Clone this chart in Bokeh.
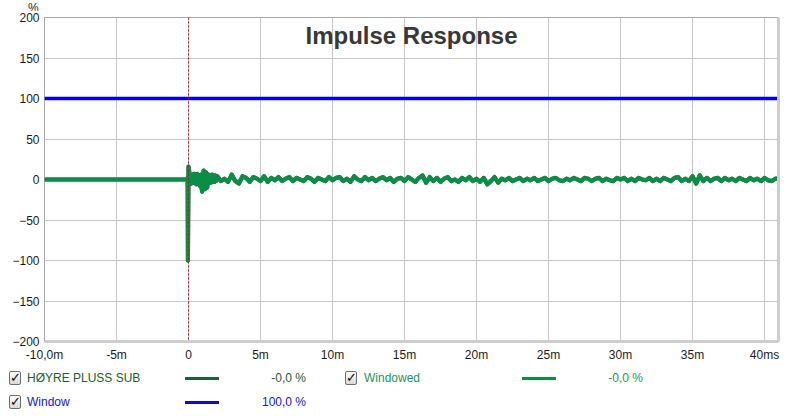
from bokeh.plotting import figure
from bokeh.models import Range1d, FixedTicker, Span, Label, Div, LinearAxis
from bokeh.layouts import column
from bokeh.embed import file_html
from bokeh.resources import INLINE

# ---------------- data ----------------
pre_t = [-10.0, -0.10]
pre_v = [0.0, 0.0]

imp_t = [-0.10, -0.06, -0.04, 0.00, 0.05, 0.10, 0.15, 0.20, 0.25, 0.30,
         0.35, 0.40, 0.45, 0.50, 0.55, 0.60, 0.65, 0.70, 0.75, 0.80,
         0.85, 0.90, 0.95, 1.00, 1.05, 1.10, 1.15, 1.20, 1.25, 1.30,
         1.35, 1.40, 1.45, 1.50, 1.55, 1.60, 1.65, 1.70, 1.75, 1.80,
         1.85, 1.90, 1.95]
imp_v = [0, 2, -100, 16, 10, -6, 3, -5, 4, 6,
         -4, 7, -3, 5, -6, 7, 2, -3, 5, -8,
         6, -10, -15, 4, 11, -7, -12, 9, 8, -10,
         4, 6, -3, 5, -4, 3, 6, -2, 4, -3,
         5, -2, 3]

tail_start = 2.0
tail_step = 0.25
tail_v = [4, -2, 1, -3,  6, -2, -5, 4,  2, -3, 3, 1,  -2, 4, -3, 2,
          -1, 3, -2, 1,  3, -2, 2, 0,  -2, 3, 1, -3,  2, 0, -2, 3,
          -1, 2, 3, -2,  1, -3, 4, 0,  -2, 3, -1, 2,  -2, 1, 3, -1,
          2, -3, 1, 2,  -2, 3, 0, -3,  2, 5, -4, 3,  -2, 2, -3, 1,
          3, -2, 0, -3,  2, -1, 3, -2,  1, -3, 2, -6,  -2, 3, -4, 1,
          -1, 2, -2, 0,  2, -2, 1, -1,  2, -2, 0, 2,  -2, 1, 2, -1,
          -2, 1, -1, 2,  0, -2, 2, 1,  -2, 1, 2, -2,  1, -1, -2, 2,
          0, 2, -2, 1,  -2, 2, 0, -1,  2, -2, 1, -2,  2, 0, -2, 2,
          3, -2, 1, -2,  4, -5, 5, -2,  2, -2, 1, 2,  -2, 2, -1, 1,
          -2, 2, 0, -2,  2, -1, 1, -2,  2, -1, -2, 1,  1]

window_t = [-10.0, 41.0]
window_v = [100.0, 100.0]

x_ticks = [-10, -5, 0, 5, 10, 15, 20, 25, 30, 35, 40]
x_tick_labels = ["-10,0m", "-5m", "0", "5m", "10m", "15m", "20m", "25m",
                 "30m", "35m", "40ms"]
y_ticks = [-200, -150, -100, -50, 0, 50, 100, 150, 200]

legend_names = ["HØYRE PLUSS SUB", "Windowed", "Window"]
legend_values = ["-0,0 %", "-0,0 %", "100,0 %"]
title_text = "Impulse Response"
y_unit = "%"

tail_t = [tail_start + tail_step * i for i in range(len(tail_v))]
trace_t = pre_t + imp_t + tail_t
trace_v = pre_v + imp_v + tail_v

# ---------------- styles / layout ----------------
FONT = "Liberation Sans"
C_RAW = "#1f5f3d"
C_WIN = "#0b8c47"
C_BLUE = "#0000e6"
C_LEG_RAW = "#1d5a37"
C_LEG_WIN = "#2a9060"
C_LEG_BLUE = "#1616c8"
C_SHADOW = "#cdcdcd"

W = 784
TOP_H = 10          # strip holding the "%" unit
FIG_H = 355
LEG_H = 40

X0, X1 = -10.0, 40.97
Y0, Y1 = -200.0, 200.0
FRAME_L, FRAME_R, FRAME_T, FRAME_B = 44, 778, 17, 341   # picture pixels
PX_X = (FRAME_R - FRAME_L) / (X1 - X0)
PX_Y = (FRAME_B - FRAME_T) / (Y1 - Y0)


def px_x(px):
    return X0 + (px - FRAME_L) / PX_X


def px_y(py):
    return Y1 - (py - FRAME_T) / PX_Y


p = figure(width=W, height=FIG_H, output_backend="svg", toolbar_location=None,
           x_range=Range1d(X0, X1), y_range=Range1d(Y0, Y1),
           min_border_left=FRAME_L, min_border_right=W - FRAME_R,
           min_border_top=FRAME_T - TOP_H,
           min_border_bottom=FIG_H - (FRAME_B - TOP_H),
           background_fill_color="white", border_fill_color="white")
p.outline_line_color = "#a8a8a8"
p.outline_line_width = 1

for ax in (p.xaxis[0], p.yaxis[0]):
    ax.axis_line_color = None
    ax.major_tick_line_color = None
    ax.minor_tick_line_color = None
    ax.major_tick_out = 0
    ax.major_tick_in = 0
    ax.minor_tick_out = 0
    ax.major_label_text_font = FONT
    ax.major_label_text_font_size = "12px"
    ax.major_label_text_color = "#1a1a1a"

# bottom axis line doubles as the frame's drop shadow
p.xaxis.axis_line_color = C_SHADOW
p.xaxis.axis_line_width = 3

# right-hand axis: only its line, as the right drop shadow
shadow_axis = LinearAxis(axis_line_color=C_SHADOW, axis_line_width=3,
                         major_tick_line_color=None,
                         minor_tick_line_color=None,
                         major_label_text_font_size="0px",
                         major_tick_out=0, major_tick_in=0, minor_tick_out=0,
                         major_label_standoff=0,
                         ticker=FixedTicker(ticks=[]))
p.add_layout(shadow_axis, "right")

p.xaxis[0].ticker = FixedTicker(ticks=x_ticks)
p.xaxis[0].major_label_overrides = {t: s for t, s in zip(x_ticks, x_tick_labels)}
p.xaxis[0].major_label_standoff = 6
p.yaxis[0].ticker = FixedTicker(ticks=y_ticks)
p.yaxis[0].major_label_standoff = 5

p.xgrid.ticker = FixedTicker(ticks=x_ticks)
p.ygrid.ticker = FixedTicker(ticks=y_ticks)
p.grid.grid_line_color = "#c6c6c6"
p.grid.grid_line_width = 1

p.line(window_t, window_v, line_color=C_BLUE, line_width=3.5)
p.line(trace_t, trace_v, line_color=C_RAW, line_width=4.2, line_join="round")
p.line(trace_t, trace_v, line_color=C_WIN, line_width=4, line_join="round")

p.add_layout(Span(location=0, dimension="height", line_color="#a02020",
                  line_width=1, line_dash="2 2"))

p.add_layout(Label(x=px_x(411), y=px_y(35), text=title_text,
                   text_align="center", text_baseline="middle",
                   text_font=FONT, text_font_size="24px",
                   text_font_style="bold", text_color="#383838"))

# ---------------- unit strip above the plot ----------------
top_html = (
    f'<div style="position:relative;width:{W}px;height:{TOP_H}px;'
    f'font-family:\'{FONT}\';font-size:12px;line-height:14px;color:#1a1a1a">'
    f'<span style="position:absolute;left:28px;top:-1px">{y_unit}</span></div>'
)
top_div = Div(text=top_html, width=W, height=TOP_H, margin=0,
              styles={"overflow": "visible"})

# ---------------- legend strip below the plot ----------------
LEG_TOP = TOP_H + FIG_H
rows = [378, 378, 402]
box_px = [9, 345, 9]
name_px = [27, 364, 27]
sample_px = [185, 522, 185]
value_px = [306, 643, 306]
line_cols = [C_RAW, C_WIN, "#1010b0"]
text_cols = [C_LEG_RAW, C_LEG_WIN, C_LEG_BLUE]

parts = [f'<div style="position:relative;width:{W}px;height:{LEG_H}px;'
         f'font-family:\'{FONT}\';font-size:12px;line-height:14px">']
for i in range(3):
    ry = rows[i] - LEG_TOP
    parts.append(
        f'<span style="position:absolute;left:{box_px[i]}px;top:{ry - 7}px;'
        f'width:12px;height:14px;box-sizing:border-box;'
        f'border:1px solid #6e6e6e;border-radius:2px;'
        f'background:linear-gradient(#fdfdfd,#d8d8d8);'
        f'font-family:\'DejaVu Sans\';font-size:13px;font-weight:bold;'
        f'line-height:12px;text-align:center;color:#000">✓</span>')
    parts.append(
        f'<span style="position:absolute;left:{name_px[i]}px;top:{ry - 7}px;'
        f'white-space:nowrap;color:{text_cols[i]}">{legend_names[i]}</span>')
    parts.append(
        f'<span style="position:absolute;left:{sample_px[i]}px;'
        f'top:{ry - 1}px;width:34px;height:3px;'
        f'background:{line_cols[i]}"></span>')
    parts.append(
        f'<span style="position:absolute;left:{value_px[i] - 120}px;'
        f'top:{ry - 7}px;width:120px;text-align:right;white-space:nowrap;'
        f'color:{text_cols[i]}">{legend_values[i]}</span>')
parts.append('</div>')
legend_div = Div(text="".join(parts), width=W, height=LEG_H, margin=0,
                 styles={"overflow": "visible"})

layout = column(top_div, p, legend_div, spacing=0)
open("out.html", "w").write(file_html(layout, INLINE))
